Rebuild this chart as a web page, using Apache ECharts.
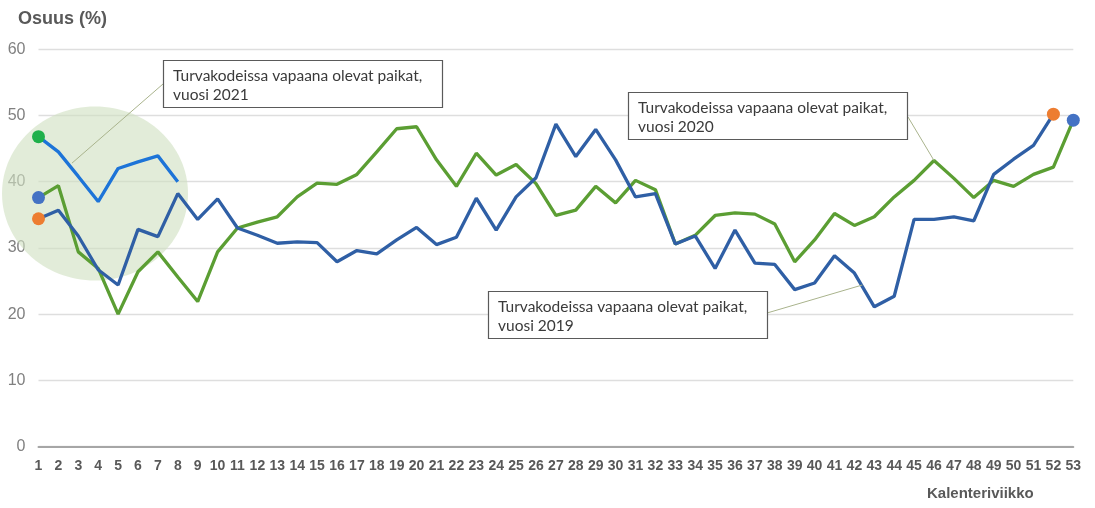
<!DOCTYPE html>
<html>
<head>
<meta charset="utf-8">
<script src="https://cdn.jsdelivr.net/npm/echarts@6/dist/echarts.min.js"></script>
<style>
  html, body { margin: 0; padding: 0; background: #fff; }
  #chart { width: 1095px; height: 508px; }
</style>
</head>
<body>
<div id="chart"></div>
<script>
// viikot 1..53
var weeks = [];
for (var w = 1; w <= 53; w++) weeks.push(w);

var y2019 = [34.4, 35.7, 31.8, 26.7, 24.4, 32.8, 31.7, 38.2, 34.3, 37.4,
             33.0, 31.9, 30.7, 30.9, 30.8, 27.9, 29.6, 29.1, 31.2, 33.1,
             30.5, 31.6, 37.5, 32.7, 37.7, 40.6, 48.7, 43.8, 47.9, 43.3,
             37.7, 38.2, 30.6, 31.8, 26.9, 32.7, 27.7, 27.5, 23.7, 24.7,
             28.8, 26.2, 21.1, 22.7, 34.3, 34.3, 34.7, 34.1, 41.1, 43.4,
             45.5, 50.2];
var y2020 = [37.6, 39.4, 29.4, 26.9, 20.0, 26.4, 29.4, 25.6, 21.9, 29.4,
             33.0, 33.9, 34.7, 37.7, 39.8, 39.6, 41.1, 44.5, 48.0, 48.3,
             43.3, 39.3, 44.3, 41.0, 42.6, 39.7, 34.9, 35.7, 39.3, 36.8,
             40.2, 38.8, 30.6, 31.9, 34.9, 35.3, 35.1, 33.6, 27.9, 31.2,
             35.2, 33.4, 34.7, 37.7, 40.2, 43.2, 40.5, 37.6, 40.2, 39.3,
             41.1, 42.2, 49.3];
var y2021 = [46.8, 44.5, 40.8, 37.0, 42.0, 43.0, 43.9, 40.0];

var yTicks = [0, 10, 20, 30, 40, 50, 60];

var labelText = 'Turvakodeissa vapaana olevat paikat,\nvuosi ';
// tekstilaatikot: vuosi, laatikon sijainti (px), ankkuri käyrällä (viikko, arvo)
var notes = [
    {year: '2021', box: [163, 60], from: [163, 84], anchor: [2.68, 42.8]},
    {year: '2020', box: [628, 92], from: [908, 117], anchor: [46, 43.2]},
    {year: '2019', box: [488, 291], from: [767, 313], anchor: [42.4, 24.4]}
];

function pairs(vals){
    return vals.map(function (v, i) { return [weeks[i], v]; });
}

function line_series(name, vals, color){
    return {
        type: 'line',
        name: name,
        data: pairs(vals),
        symbol: 'none',
        z: 3,
        lineStyle: { color: color, width: 3.3 },
        animation: false
    };
}

function dot_series(name, pts, color){
    return {
        type: 'scatter',
        name: name,
        data: pts,
        symbolSize: 13,
        z: 4,
        itemStyle: { color: color, opacity: 1 },
        animation: false
    };
}

var chart = echarts.init(document.getElementById('chart'));

var options = {
    grid: { left: 38.5, right: 21.7, top: 49.3, bottom: 61.5 },
    title: {
        text: 'Osuus (%)',
        left: 13, top: 5,
        textStyle: { fontFamily: 'Liberation Sans', fontSize: 18, fontWeight: 'bold', color: '#595959' }
    },
    xAxis: {
        type: 'value',
        min: 1, max: 53, interval: 1,
        axisLine: { show: true, onZero: true, lineStyle: { color: '#a6a6a6', width: 2 } },
        axisTick: { show: false },
        splitLine: { show: false },
        axisLabel: {
            margin: 13,
            fontFamily: 'Liberation Sans Narrow, Liberation Sans',
            fontWeight: 'bold', fontSize: 14, color: '#595959',
            showMinLabel: true, showMaxLabel: true,
            formatter: function (v) { return weeks.indexOf(v) >= 0 ? String(v) : ''; }
        }
    },
    yAxis: {
        type: 'value',
        min: yTicks[0], max: yTicks[yTicks.length - 1], interval: 10,
        axisLine: { show: false },
        axisTick: { show: false },
        splitLine: { lineStyle: { color: '#dedede', width: 1.3 } },
        axisLabel: {
            margin: 13,
            fontFamily: 'Liberation Sans', fontSize: 16, color: '#808080'
        }
    },
    series: [
        line_series('2020', y2020, '#5b9e33'),
        line_series('2019', y2019, '#2f5fa5'),
        line_series('2021', y2021, '#1d74d8'),
        dot_series('2019 pisteet', [[weeks[0], y2019[0]], [weeks[y2019.length - 1], y2019[y2019.length - 1]]], '#ed7d31'),
        dot_series('2020 pisteet', [[weeks[0], y2020[0]], [weeks[y2020.length - 1], y2020[y2020.length - 1]]], '#4472c4'),
        dot_series('2021 pisteet', [[weeks[0], y2021[0]]], '#1fb04b')
    ]
};
chart.setOption(options);

// korostusympyrä ja selitelaatikot
function to_px(p){
    return chart.convertToPixel({xAxisIndex: 0, yAxisIndex: 0}, p);
}
var graphics = [];
var c = to_px([3.84, 38.2]);
graphics.push({
    type: 'ellipse', z: 1,
    shape: { cx: c[0], cy: c[1], rx: 93, ry: 87 },
    style: { fill: 'rgba(208,225,193,0.62)' }
});
notes.forEach(function (n) {
    var a = to_px(n.anchor);
    graphics.push({
        type: 'line', z: 5,
        shape: { x1: n.from[0], y1: n.from[1], x2: a[0], y2: a[1] },
        style: { stroke: '#a9b38c', lineWidth: 1 }
    });
    graphics.push({
        type: 'rect', z: 6,
        shape: { x: n.box[0] + 0.5, y: n.box[1] + 0.5, width: 279, height: 47 },
        style: { fill: '#fff', stroke: '#5a5a5a', lineWidth: 1.2 }
    });
    graphics.push({
        type: 'text', z: 7,
        x: n.box[0] + 10, y: n.box[1] + 6.5,
        style: {
            text: labelText + n.year,
            font: '15.5px Lato', fill: '#3a3a3a', lineHeight: 19
        }
    });
});
graphics.push({
    type: 'text', z: 7,
    x: 927, y: 486,
    style: { text: 'Kalenteriviikko', font: 'bold 15px "Liberation Sans"', fill: '#595959' }
});
chart.setOption({ graphic: graphics });
</script>
</body>
</html>
